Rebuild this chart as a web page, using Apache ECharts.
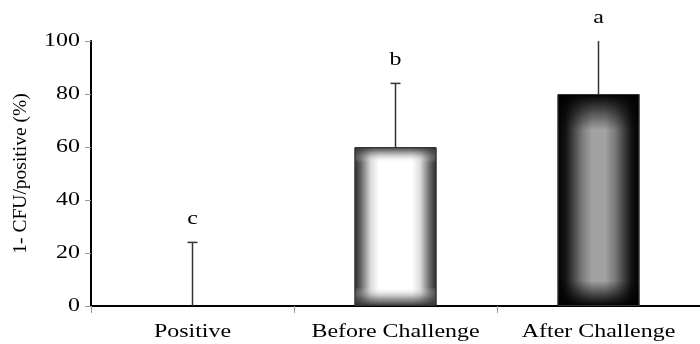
<!DOCTYPE html>
<html><head><meta charset="utf-8">
<script src="https://cdn.jsdelivr.net/npm/echarts@6/dist/echarts.min.js"></script>
<style>html,body{margin:0;padding:0;background:#fff}#c{width:700px;height:344px}</style>
</head><body><div id="c"></div>
<script>
var categories = ['Positive', 'Before Challenge', 'After Challenge'];
var values = [0, 60, 80];
var errorTop = [24, 84, 100];
var letters = ['c', 'b', 'a'];
var yTicks = [0, 20, 40, 60, 80, 100];

var font = '"Liberation Serif", "Times New Roman", serif';
var SX = 1.26; // horizontal stretch of text, as in the reference figure
var chart = echarts.init(document.getElementById('c'));

function lg(horiz, stops) {
  return new echarts.graphic.LinearGradient(0, 0, horiz ? 1 : 0, horiz ? 0 : 1,
    stops.map(function (s) { return { offset: s[0], color: s[1] }; }));
}
var hFill = [
  null,
  lg(true, [[0, '#2a2a2a'], [0.08, '#666'], [0.2, '#ddd'], [0.3, '#fff'], [0.7, '#fff'], [0.8, '#ddd'], [0.92, '#666'], [1, '#2a2a2a']]),
  lg(true, [[0, '#000'], [0.1, '#141414'], [0.3, '#7a7a7a'], [0.42, '#a2a2a2'], [0.58, '#a2a2a2'], [0.7, '#7a7a7a'], [0.9, '#141414'], [1, '#000']])
];
var vFill = [
  null,
  lg(false, [[0, 'rgba(40,40,40,0.95)'], [0.04, 'rgba(90,90,90,0.5)'], [0.1, 'rgba(255,255,255,0)'], [0.88, 'rgba(255,255,255,0)'], [0.95, 'rgba(90,90,90,0.55)'], [1, 'rgba(40,40,40,0.95)']]),
  lg(false, [[0, 'rgba(0,0,0,1)'], [0.07, 'rgba(0,0,0,0.6)'], [0.17, 'rgba(0,0,0,0)'], [0.88, 'rgba(0,0,0,0)'], [0.95, 'rgba(0,0,0,0.6)'], [1, 'rgba(0,0,0,1)']])
];

function stretchedText(x, y, text, align) {
  return { type: 'text', x: x, y: y, scaleX: SX, scaleY: 1,
    style: { text: text, fill: '#000', font: '19px ' + font, align: align, verticalAlign: 'middle' } };
}

chart.setOption({
  animation: false,
  grid: { left: 91, right: -1, top: 41, bottom: 38, containLabel: false },
  xAxis: {
    type: 'category', data: categories,
    axisLine: { lineStyle: { color: '#000', width: 2 } },
    axisTick: { show: true, length: 7, alignWithLabel: false, lineStyle: { color: '#999', width: 1 } },
    axisLabel: { show: false }
  },
  yAxis: {
    type: 'value', min: 0, max: 100, interval: 20,
    name: '1- CFU/positive (%)', nameLocation: 'middle', nameGap: 60, nameRotate: 90,
    nameTextStyle: { color: '#000', fontFamily: font, fontSize: 19.5 },
    axisLine: { show: true, lineStyle: { color: '#000', width: 2 } },
    axisTick: { show: true, length: 6, lineStyle: { color: '#999', width: 1 } },
    axisLabel: { show: false },
    splitLine: { show: false }
  },
  series: [
    {
      type: 'bar', barWidth: 82, barGap: '-100%', z: 2,
      data: values.map(function (v, i) {
        return { value: v, itemStyle: { color: hFill[i] || '#fff', borderColor: '#333', borderWidth: v ? 1 : 0 } };
      })
    },
    {
      type: 'bar', barWidth: 82, barGap: '-100%', z: 3,
      data: values.map(function (v, i) {
        return { value: v, itemStyle: { color: vFill[i] || 'rgba(0,0,0,0)', borderColor: '#333', borderWidth: v ? 1 : 0 } };
      })
    },
    {
      // error bars + significance letters + category labels
      type: 'custom', z: 4, clip: false,
      data: categories.map(function (c, i) { return [i, values[i], errorTop[i]]; }),
      renderItem: function (params, api) {
        var i = params.dataIndex;
        var base = api.coord([api.value(0), api.value(1)]);
        var top = api.coord([api.value(0), api.value(2)]);
        var zero = api.coord([api.value(0), 0]);
        var x = base[0];
        var ch = [
          { type: 'line', shape: { x1: x, y1: base[1], x2: x, y2: top[1] }, style: { stroke: '#333', lineWidth: 1.5 } },
          stretchedText(x, top[1] - 23, letters[i], 'center'),
          stretchedText(x, zero[1] + 26, categories[i], 'center')
        ];
        if (api.value(2) < 100) {
          ch.push({ type: 'line', shape: { x1: x - 5, y1: top[1], x2: x + 5, y2: top[1] }, style: { stroke: '#333', lineWidth: 1.5 } });
        }
        return { type: 'group', children: ch };
      }
    },
    {
      // y tick labels
      type: 'custom', z: 4, clip: false,
      data: yTicks.map(function (t) { return [0, t]; }),
      renderItem: function (params, api) {
        var p = api.coord([0, api.value(1)]);
        var left = params.coordSys.x;
        return stretchedText(left - 11, p[1], String(yTicks[params.dataIndex]), 'right');
      }
    }
  ]
});
</script></body></html>
